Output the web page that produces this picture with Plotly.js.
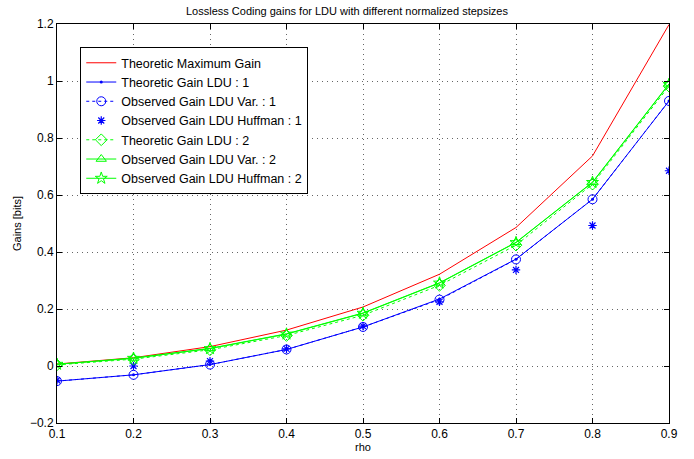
<!DOCTYPE html>
<html><head><meta charset="utf-8">
<script src="https://cdn.plot.ly/plotly-3.0.1.min.js"></script>
<style>body{margin:0;background:#fff}#c{width:694px;height:459px}</style>
</head><body><div id="c"></div>
<script>
const rho = [0.1,0.2,0.3,0.4,0.5,0.6,0.7,0.8,0.9];
const theoMax = [0.007,0.029,0.068,0.126,0.207,0.322,0.486,0.737,1.198];
const theoLDU1 = [-0.053,-0.031,0.005,0.058,0.137,0.235,0.375,0.585,0.93];
const obsVar1 = [-0.053,-0.031,0.005,0.058,0.137,0.233,0.374,0.585,0.93];
const obsHuff1 = [-0.05,0.0,0.017,0.06,0.14,0.225,0.337,0.493,0.685];
const theoLDU2 = [0.004,0.024,0.057,0.107,0.178,0.283,0.424,0.638,0.982];
const obsVar2 = [0.006,0.028,0.062,0.113,0.186,0.292,0.434,0.645,0.99];
const obsHuff2 = [0.006,0.027,0.061,0.112,0.185,0.291,0.433,0.644,0.988];
const yTicks = [-0.2,0,0.2,0.4,0.6,0.8,1,1.2];
const yTickText = ['\u22120.2','0','0.2','0.4','0.6','0.8','1','1.2'];
const xTicks = [0.1,0.2,0.3,0.4,0.5,0.6,0.7,0.8,0.9];

const blue='#0000ff', green='#00ff00', red='#ff0000';
const F = 'Arial, Liberation Sans, sans-serif';
const traces = [
 {x:rho,y:theoMax,name:'Theoretic Maximum Gain',mode:'lines',line:{color:red,width:1}},
 {x:rho,y:theoLDU1,name:'Theoretic Gain LDU : 1',mode:'lines+markers',line:{color:blue,width:1},marker:{symbol:'circle',size:3,color:blue}},
 {x:rho,y:obsVar1,name:'Observed Gain LDU Var. : 1',mode:'lines+markers',line:{color:blue,width:1,dash:'dot'},marker:{symbol:'circle-open',size:9,color:blue,line:{width:1,color:blue}}},
 {x:rho,y:obsHuff1,name:'Observed Gain LDU Huffman : 1',mode:'markers',marker:{symbol:'asterisk-open',size:7,color:blue,line:{width:1.2,color:blue}}},
 {x:rho,y:theoLDU2,name:'Theoretic Gain LDU : 2',mode:'lines+markers',line:{color:green,width:1,dash:'dot'},marker:{symbol:'diamond-open',size:9,color:green,line:{width:1,color:green}}},
 {x:rho,y:obsVar2,name:'Observed Gain LDU Var. : 2',mode:'lines+markers',line:{color:green,width:1},marker:{symbol:'triangle-up-open',size:9,color:green,line:{width:1,color:green}}},
 {x:rho,y:obsHuff2,name:'Observed Gain LDU Huffman : 2',mode:'lines+markers',line:{color:green,width:1},marker:{symbol:'star-open',size:9,color:green,line:{width:1,color:green}}}
];
const axisCommon = {showline:true,mirror:'ticks',linecolor:'#000',linewidth:1,ticks:'inside',ticklen:5,tickcolor:'#000',
  showgrid:true,gridcolor:'#666',griddash:'1px,4px',gridwidth:1,zeroline:false,tickfont:{family:F,size:12,color:'#000'}};
const layout = {
 width:694,height:459,paper_bgcolor:'#fff',plot_bgcolor:'#fff',
 margin:{l:57,r:25,t:24,b:36},
 title:{text:'Lossless Coding gains for LDU with different normalized stepsizes',font:{family:F,size:11,color:'#000'},x:0.5,xanchor:'center',y:0.985,yanchor:'top'},
 xaxis:Object.assign({},axisCommon,{range:[0.1,0.9],tickvals:xTicks,ticktext:xTicks.map(String),title:{text:'rho',font:{family:F,size:11,color:'#000'},standoff:2}}),
 yaxis:Object.assign({},axisCommon,{range:[-0.2,1.2],tickvals:yTicks,ticktext:yTickText,title:{text:'Gains [bits]',font:{family:F,size:11,color:'#000'},standoff:6}}),
 showlegend:true,
 legend:{x:0.038,y:0.942,xanchor:'left',yanchor:'top',bgcolor:'#fff',bordercolor:'#000',borderwidth:1,
   font:{family:F,size:12.5,color:'#000'},itemwidth:30,tracegroupgap:0}
};
Plotly.newPlot('c',traces,layout,{staticPlot:true});
</script></body></html>
